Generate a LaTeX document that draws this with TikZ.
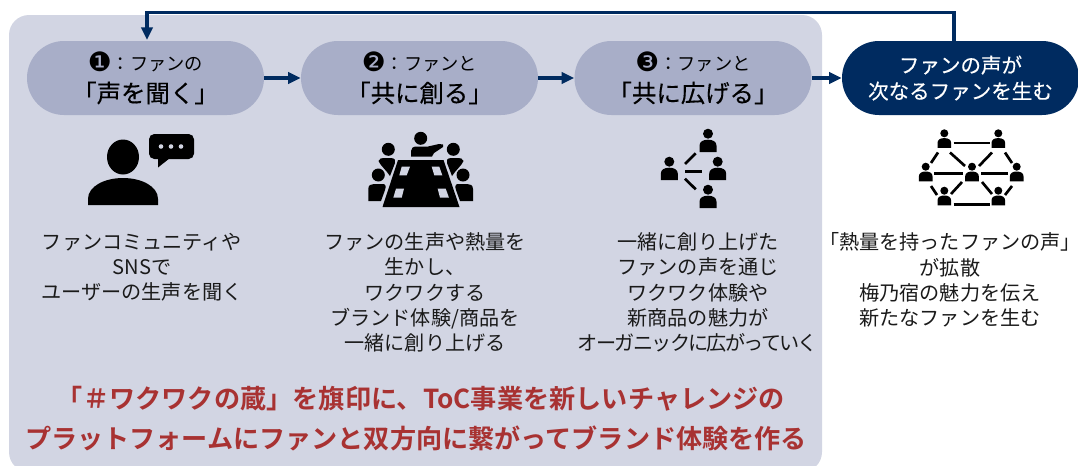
\documentclass[tikz,border=0pt]{standalone}
\usepackage{fontspec}
\setmainfont{Noto Sans CJK JP}[BoldFont={Noto Sans CJK JP Bold}]
\newfontfamily\symfont{DejaVu Sans}
\newfontfamily\medfont{Noto Sans CJK JP}[FakeBold=0.3]
\usetikzlibrary{arrows.meta}
\definecolor{panelc}{HTML}{D2D5E3}
\definecolor{pillc}{HTML}{A8AEC8}
\definecolor{navyc}{HTML}{002B60}
\definecolor{redc}{HTML}{A83232}
\definecolor{inkc}{HTML}{1A1A1A}
\tikzset{
  x=0.75pt,y=-0.75pt,
  pillbox/.style={minimum width=177.75pt,minimum height=55.5pt,inner sep=0pt,rounded corners=27.75pt,fill=pillc,text=black,align=center},
  darkbox/.style={pillbox,fill=navyc,text=white},
  conn/.style={draw=navyc,line width=2.3pt,-{Triangle[width=8.5pt,length=9.5pt]}},
  bodytext/.style={font=\fontsize{15.1pt}{18.95pt}\selectfont,text=inkc,align=center,inner sep=0pt,anchor=north},
  redtext/.style={font=\fontsize{19.6pt}{24pt}\selectfont\bfseries,text=redc,inner sep=0pt},
  iconline/.style={draw=black,line width=2pt},
  pics/person/.style={code={
    \fill (0,0) circle (5);
    \fill (-8.5,18.3) -- (-8.5,12) .. controls (-8.5,8) and (-5,6) .. (0,6) .. controls (5,6) and (8.5,8) .. (8.5,12) -- (8.5,18.3) -- cycle;
  }}
}
\newcommand{\toptext}[2]{\fontsize{13.7pt}{18pt}\selectfont{\symfont\fontsize{20pt}{18pt}\selectfont\raisebox{-1pt}{#1}}：ファン#2}
\newcommand{\titletext}[1]{\medfont\fontsize{18.3pt}{24pt}\selectfont #1}
\begin{document}
\begin{tikzpicture}
\useasboundingbox (0,0) rectangle (1078,465);
\fill[panelc,rounded corners=15pt] (9,15) rectangle (822,472);
\node[pillbox] (p1) at (145.5,78) {\toptext{❶}{の}\\[6.5pt]\titletext{「声を聞く」}};
\node[pillbox] (p2) at (419.5,78) {\toptext{❷}{と}\\[6.5pt]\titletext{「共に創る」}};
\node[pillbox] (p3) at (693,78) {\toptext{❸}{と}\\[6.5pt]\titletext{「共に広げる」}};
\node[darkbox,font=\medfont\fontsize{15.4pt}{19.5pt}\selectfont] (p4) at (960.5,78) {ファンの声が\\次なるファンを生む};
\coordinate (loopS) at (954,41);
\coordinate (loopE) at (147,40);
\draw[conn] (p1.east) -- (p2.west);
\draw[conn] (p2.east) -- (p3.west);
\draw[conn] (p3.east) -- (p4.west);
\draw[conn] (loopS) -- ++(0,-28.5) -| (loopE);
% icon 1
\fill[black] (123,157) ellipse (16 and 17.5);
\fill[black] (88,205) -- (88,199) .. controls (88,186) and (105,178) .. (123,178) .. controls (141,178) and (158,186) .. (158,199) -- (158,205) -- cycle;
\fill[black,rounded corners=4pt] (149,134) rectangle (194,159);
\fill[black] (158,156) -- (158,167.5) -- (170,158) -- cycle;
\foreach \dx in {161,171,181}{\fill[panelc] (\dx,146.5) circle (2.3);}
% icon 2
\fill[black] (420.7,138.3) circle (6.5);
\fill[black] (411,156.5) -- (411,151) .. controls (411,148) and (413,146.5) .. (417,146.5) -- (428,146.5) -- (439,144) -- (443,144.5) -- (443,147) -- (434,153) -- (432,156.5) -- cycle;
\fill[black] (398,160) -- (443.5,160) -- (459.5,207) -- (382.5,207) -- cycle;
\fill[panelc] (401.7,166.7) -- (410,166.7) -- (406.7,175.3) -- (399.3,175.3) -- cycle;
\fill[panelc] (431.7,166.7) -- (439.3,166.7) -- (442.3,175.3) -- (434.3,175.3) -- cycle;
\fill[panelc] (396,188.7) -- (404,188.7) -- (401.7,197.7) -- (393.3,197.7) -- cycle;
\fill[panelc] (437.7,188.7) -- (445.7,188.7) -- (449,197.7) -- (440,197.7) -- cycle;
\fill[black] (388.3,149.3) circle (6.5);
\fill[black] (378.5,161) .. controls (379,158) and (382,158) .. (385,158) -- (391,158) .. controls (395,158) and (396,161) .. (395,163) -- (390,176) .. controls (386,170) and (380,165) .. (378.5,161) -- cycle;
\fill[black] (378.3,175) circle (6.5);
\fill[black] (368.3,201) -- (368.3,189) .. controls (368.3,185) and (371,184) .. (374,184) -- (383,184) .. controls (386,184) and (386,187) .. (385,190) -- (381,201) -- cycle;
\fill[black] (453.3,149.3) circle (6.5);
\fill[black] (463.5,161) .. controls (463,158) and (460,158) .. (457,158) -- (451,158) .. controls (447,158) and (446,161) .. (447,163) -- (452,176) .. controls (456,170) and (462,165) .. (463.5,161) -- cycle;
\fill[black] (463,175) circle (6.5);
\fill[black] (473,201) -- (473,189) .. controls (473,185) and (470,184) .. (467,184) -- (458,184) .. controls (455,184) and (455,187) .. (456,190) -- (460,201) -- cycle;
% icon 3
\pic at (669.3,161.7) {person};
\pic at (708,133.7) {person};
\pic at (717.7,161.7) {person};
\pic at (708,189.7) {person};
\draw[iconline] (685,164) -- (695.7,153.3);
\draw[iconline] (685,171.3) -- (702.3,171.3);
\draw[iconline] (685,178.7) -- (695.7,189.3);
% icon 4
\begin{scope}[every pic/.style={scale=0.8}]
\pic at (944.3,133.3) {person};
\pic at (998.3,133.3) {person};
\pic at (925.7,166.7) {person};
\pic at (972,166.7) {person};
\pic at (1016.7,166.7) {person};
\pic at (944.3,190.7) {person};
\pic at (998.3,190.7) {person};
\end{scope}
\draw[iconline] (953.5,143) -- (989.5,143);
\draw[iconline] (953.5,204.7) -- (989.5,204.7);
\draw[iconline] (938,152.5) -- (931,163);
\draw[iconline] (950,152.5) -- (965,166);
\draw[iconline] (992,152.5) -- (979,166);
\draw[iconline] (1005,152.5) -- (1012,163);
\draw[iconline] (934,173.7) -- (963,173.7);
\draw[iconline] (981,173.7) -- (1008,173.7);
\draw[iconline] (931,186) -- (937,195);
\draw[iconline] (962,182) -- (951,194);
\draw[iconline] (982,182) -- (992,194);
\draw[iconline] (1012,186) -- (1005,195);
% body texts
\node[bodytext] (t1) at (142,232.5) {ファンコミュニティや\\SNSで\\ユーザーの生声を聞く};
\node[bodytext] (t2) at (425,232.5) {ファンの生声や熱量を\\生かし、\\ワクワクする\\ブランド体験/商品を\\一緒に創り上げる};
\node[bodytext] (t3) at (698,232.5) {一緒に創り上げた\\ファンの声を通じ\\ワクワク体験や\\新商品の魅力が\\{\addfontfeature{LetterSpace=-8.5}オーガニックに広がっていく}};
\node[bodytext] (t4) at (950,232.5) {「熱量を持ったファンの声」\\が拡散\\梅乃宿の魅力を伝え\\新たなファンを生む};
\node[redtext] (r1) at (421,399) {\addfontfeature{LetterSpace=0.3}「＃ワクワクの蔵」を旗印に、ToC事業を新しいチャレンジの};
\node[redtext] (r2) at (416,438) {プラットフォームにファンと双方向に繋がってブランド体験を作る};
\end{tikzpicture}
\end{document}
